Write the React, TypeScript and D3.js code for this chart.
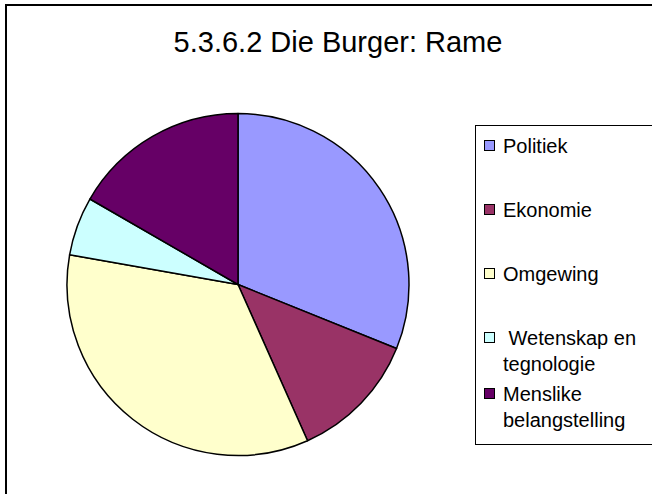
import React, { useEffect, useRef } from 'react';
import * as d3 from 'd3';

const title = '5.3.6.2 Die Burger: Rame';
const categories = ['Politiek', 'Ekonomie', 'Omgewing', ' Wetenskap en\ntegnologie', 'Menslike\nbelangstelling'];
const values = [28, 11, 31, 5, 15];
const colors = ['#9999FF', '#993366', '#FFFFCC', '#CCFFFF', '#660066'];

const App = () => {
  const svgRef = useRef<SVGSVGElement>(null);

  useEffect(() => {
    const width = 652;
    const height = 494;
    const svg = d3.select(svgRef.current).attr('width', width).attr('height', height);
    svg.selectAll('*').remove();

    // chart frame (runs off the right and bottom of the picture)
    svg.append('rect')
      .attr('x', 6).attr('y', 5)
      .attr('width', 720).attr('height', 620)
      .attr('fill', '#fff')
      .attr('stroke', '#000')
      .attr('stroke-width', 2);

    svg.append('text')
      .attr('x', 338)
      .attr('y', 52)
      .attr('text-anchor', 'middle')
      .style('font-family', 'Liberation Sans, Arial, sans-serif')
      .style('font-size', '29px')
      .text(title);

    const data = categories.map((name, i) => ({ name, value: values[i], color: colors[i] }));
    const pie = d3.pie<any>().sort(null).value(d => d.value);
    const arc = d3.arc<any>().innerRadius(0).outerRadius(171);

    const g = svg.append('g').attr('transform', 'translate(238,284.5)');
    g.selectAll('path')
      .data(pie(data))
      .join('path')
      .attr('d', arc)
      .attr('fill', d => d.data.color)
      .attr('stroke', '#000')
      .attr('stroke-width', 1.5)
      .attr('stroke-linejoin', 'round');

    // legend
    const legend = svg.append('g');
    legend.append('rect')
      .attr('x', 475.5).attr('y', 125.5)
      .attr('width', 300).attr('height', 319)
      .attr('fill', '#fff')
      .attr('stroke', '#000')
      .attr('stroke-width', 1);

    let y = 146;
    data.forEach(d => {
      const lines = d.name.split('\n');
      legend.append('rect')
        .attr('x', 484.5).attr('y', y - 5.5)
        .attr('width', 10).attr('height', 10)
        .attr('fill', d.color)
        .attr('stroke', '#000')
        .attr('stroke-width', 1);
      const t = legend.append('text')
        .attr('x', 503)
        .attr('y', y + 7)
        .style('font-family', 'Liberation Sans, Arial, sans-serif')
        .style('font-size', '20px')
        .style('white-space', 'pre');
      lines.forEach((line, j) => {
        t.append('tspan').attr('x', 503).attr('dy', j === 0 ? 0 : 26).text(line);
      });
      y += lines.length === 1 ? 64 : 56;
    });
  }, []);

  return (
    <svg ref={svgRef} style={{ position: 'absolute', left: 0, top: 0, display: 'block' }}></svg>
  );
};

export default App;
